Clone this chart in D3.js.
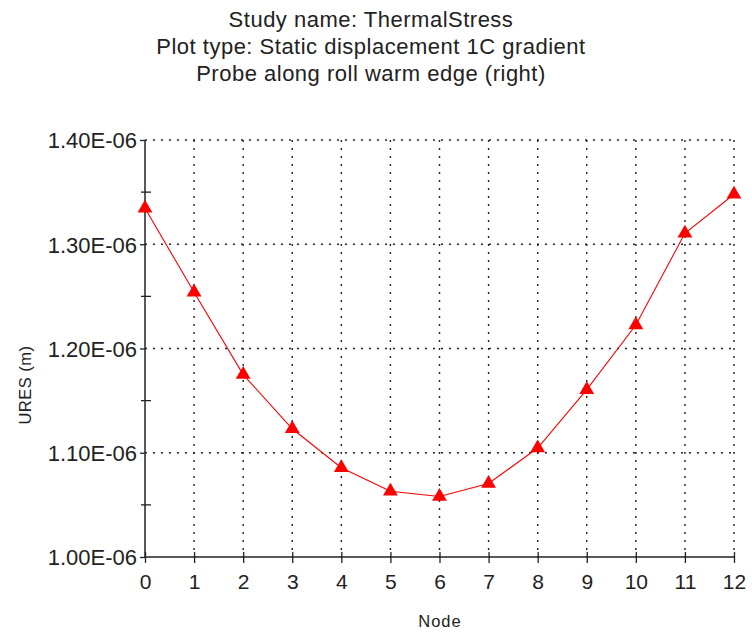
<!DOCTYPE html>
<html><head><meta charset="utf-8">
<script src="https://cdn.jsdelivr.net/npm/d3@7"></script>
<style>body{margin:0;background:#fff}svg{display:block}text{font-family:"Liberation Sans",Arial,sans-serif;fill:#222}</style>
</head><body>
<svg id="c" width="752" height="632"></svg>
<script>
const titleLines = ["Study name: ThermalStress", "Plot type: Static displacement 1C gradient", "Probe along roll warm edge (right)"];
const nodes = [0,1,2,3,4,5,6,7,8,9,10,11,12];
const ures = [1.3346e-6,1.2540e-6,1.1750e-6,1.1230e-6,1.0856e-6,1.0630e-6,1.0580e-6,1.0705e-6,1.1045e-6,1.1605e-6,1.2225e-6,1.3105e-6,1.3480e-6];
const yTicks = [1.00e-6,1.10e-6,1.20e-6,1.30e-6,1.40e-6];
const yTickLabels = ["1.00E-06","1.10E-06","1.20E-06","1.30E-06","1.40E-06"];
const yMinorTicks = [1.05e-6,1.15e-6,1.25e-6,1.35e-6];
const xLabel = "Node", yLabel = "URES (m)";

const svg = d3.select("#c");
const L = 145, R = 734, T = 140, B = 557;
const x = d3.scaleLinear().domain([0,12]).range([L,R]);
const y = d3.scaleLinear().domain([1.0e-6,1.4e-6]).range([B,T]);

// titles
svg.selectAll("text.title").data(titleLines).enter().append("text")
  .attr("x", 371).attr("y", (d,i)=>26.5+i*27).attr("text-anchor","middle")
  .style("font-size","22px").style("letter-spacing","0.5px").text(d=>d);

// grid
const g = svg.append("g");
g.selectAll("line.hg").data(yTicks.slice(1)).enter().append("line")
  .attr("x1",L).attr("x2",R).attr("y1",d=>y(d)).attr("y2",d=>y(d))
  .attr("stroke","#222").attr("stroke-width",1.4).attr("stroke-dasharray","2,6");
g.selectAll("line.vg").data(nodes.slice(1)).enter().append("line")
  .attr("x1",d=>x(d)).attr("x2",d=>x(d)).attr("y1",T).attr("y2",B)
  .attr("stroke","#222").attr("stroke-width",1.4).attr("stroke-dasharray","2,6");

// axes
const xAxis = d3.axisBottom(x).tickValues(nodes).tickFormat(d3.format("d")).tickSize(5).tickPadding(12);
const xg = svg.append("g").attr("transform",`translate(0,${B})`).call(xAxis);
xg.select(".domain").attr("stroke","#222").attr("stroke-width",1.5).attr("d",`M${L},0H${R}`);
xg.selectAll(".tick line").attr("y1",-5).attr("y2",6).attr("stroke","#222").attr("stroke-width",1.3);
xg.selectAll(".tick text").style("font-size","21px").attr("fill","#222").style("font-family","Liberation Sans, Arial, sans-serif");

const yAxis = d3.axisLeft(y).tickValues(yTicks).tickFormat((d,i)=>yTickLabels[i]).tickSize(5).tickPadding(3);
const yg = svg.append("g").attr("transform",`translate(${L},0)`).call(yAxis);
yg.select(".domain").attr("stroke","#222").attr("stroke-width",1.5).attr("d",`M0,${B}V${T}`);
yg.selectAll(".tick line").attr("stroke","#222").attr("stroke-width",1.3);
yg.selectAll(".tick text").style("font-size","22px").attr("fill","#222").attr("dy","0.36em").style("font-family","Liberation Sans, Arial, sans-serif");
yg.selectAll("line.minor").data(yMinorTicks).enter().append("line")
  .attr("x1",-4).attr("x2",6).attr("y1",d=>y(d)).attr("y2",d=>y(d)).attr("stroke","#222").attr("stroke-width",1.3);

// axis labels
svg.append("text").attr("x",440).attr("y",627).attr("text-anchor","middle").style("font-size","16.5px").style("letter-spacing","1px").text(xLabel);
svg.append("text").attr("transform","translate(31,385) rotate(-90)").attr("text-anchor","middle").style("font-size","16.5px").style("letter-spacing","0.5px").text(yLabel);

// line
const line = d3.line().x((d,i)=>x(nodes[i])).y(d=>y(d));
svg.append("path").datum(ures).attr("d",line).attr("fill","none").attr("stroke","#ff0000").attr("stroke-width",1.1);
const tri = d3.symbol().type(d3.symbolTriangle).size(95);
svg.selectAll("path.pt").data(ures).enter().append("path")
  .attr("transform",(d,i)=>`translate(${x(nodes[i])},${y(d)})`).attr("d",tri).attr("fill","#ff0000");
</script>
</body></html>
